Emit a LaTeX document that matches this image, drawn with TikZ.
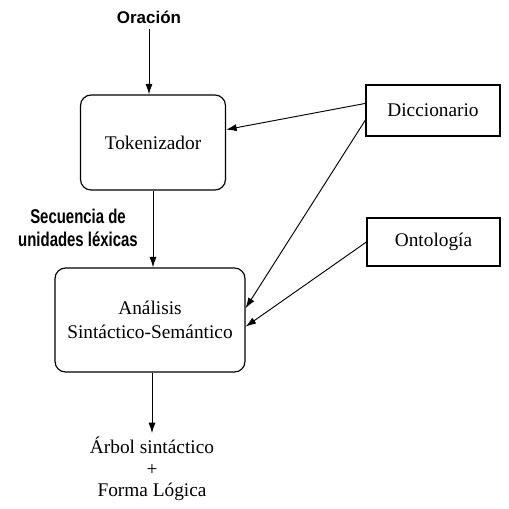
\documentclass[tikz,border=0pt]{standalone}
\usepackage{fontspec}
\setmainfont{Liberation Serif}
\setsansfont{Liberation Sans}
\newfontfamily\narrowsans{Liberation Sans}[FakeStretch=0.75]
\usetikzlibrary{arrows.meta}
\tikzset{
  procbox/.style={draw, line width=1pt, rounded corners=9pt, align=center},
  srcbox/.style={draw, line width=1pt, align=center},
  flow/.style={-{Latex[length=9pt,width=6pt]}, line width=0.8pt},
  lbl/.style={align=center, inner sep=1pt}
}
\begin{document}
\begin{tikzpicture}[x=0.03cm, y=-0.03cm, font=\fontsize{16.5}{18.5}\selectfont]
\useasboundingbox (0,0) rectangle (509,508);
% entrada
\node[lbl, font=\fontsize{14.5}{16}\selectfont\sffamily\bfseries] (orac) at (149,17) {Oración};
% etapas
\node[procbox, minimum width=4.35cm, minimum height=2.85cm] (tok) at (153,142.5) {Tokenizador};
\node[procbox, minimum width=5.7cm, minimum height=3.12cm] (ana) at (150,320) {Análisis\\[2pt]Sintáctico-Semántico};
% recursos
\node[srcbox, minimum width=4.02cm, minimum height=1.53cm] (dicc) at (433,110.5) {Diccionario};
\node[srcbox, minimum width=3.99cm, minimum height=1.44cm] (onto) at (433.5,242) {Ontología};
% textos
\node[lbl, font=\fontsize{17}{19.5}\selectfont\narrowsans\bfseries] (secu) at (78,228) {Secuencia de\\unidades léxicas};
\node[lbl] (res) at (152,469) {Árbol sintáctico\\+\\Forma Lógica};
% flechas
\draw[flow] ([yshift=-4pt]orac.south) -- (orac.south |- tok.north);
\draw[flow] (tok.south) -- (tok.south |- ana.north);
\draw[flow] (res.north |- ana.south) -- ([yshift=2pt]res.north);
\draw[flow] (dicc.174) -- (tok.10);
\draw[flow] (dicc.188) -- (ana.7);
\draw[flow] (onto.west) -- (ana.356);
\end{tikzpicture}
\end{document}
